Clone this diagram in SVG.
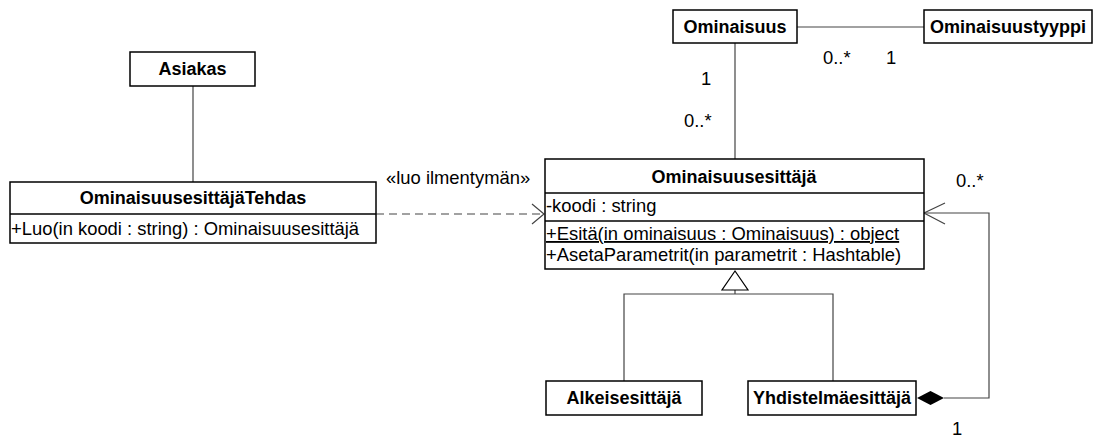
<svg xmlns="http://www.w3.org/2000/svg" width="1094" height="438" viewBox="0 0 1094 438">
<style>
text{font-family:"Liberation Sans",Arial,sans-serif;font-size:18.4px;fill:#000}
.b{font-weight:bold;text-anchor:middle;font-size:18px}
.box{fill:#fff;stroke:#000;stroke-width:1.5}
.ln{fill:none;stroke:#444;stroke-width:1.2}
.dv{stroke:#000;stroke-width:1.5}
</style>
<rect width="1094" height="438" fill="#fff"/>
<g id="connectors">
<line class="ln" x1="193" y1="86" x2="193" y2="182"/>
<line class="ln" x1="797" y1="27" x2="924" y2="27"/>
<line class="ln" x1="735" y1="43" x2="735" y2="159"/>
<line class="ln" x1="376" y1="214" x2="544" y2="214" stroke-dasharray="8,5"/>
<polyline class="ln" points="532,204 544,214 532,224"/>
<polyline class="ln" points="624,381 624,294 833,294 833,381"/>
<line class="ln" x1="735" y1="294" x2="735" y2="290"/>
<polygon points="735,271 722,290 748,290" fill="#fff" stroke="#000" stroke-width="1.2"/>
<polyline class="ln" points="944,398 989,398 989,213 924,213"/>
<polyline class="ln" points="945,203 924,213 945,224"/>
<polygon points="917,398 930.5,391 944,398 930.5,405" fill="#000"/>
<text x="386" y="184">«luo ilmentymän»</text>
<text x="701" y="85">1</text>
<text x="684" y="127">0..*</text>
<text x="823" y="64">0..*</text>
<text x="886" y="64">1</text>
<text x="956" y="187">0..*</text>
<text x="952" y="435">1</text>
</g>
<g id="Asiakas">
<rect class="box" x="130" y="52" width="125" height="34"/>
<text class="b" x="192.5" y="75">Asiakas</text>
</g>
<g id="OminaisuusesittajaTehdas">
<rect class="box" x="10" y="182" width="366" height="61"/>
<line class="dv" x1="10" y1="214" x2="376" y2="214"/>
<text class="b" x="193" y="204">OminaisuusesittäjäTehdas</text>
<text x="11" y="235">+Luo(in koodi : string) : Ominaisuusesittäjä</text>
</g>
<g id="Ominaisuus">
<rect class="box" x="673" y="10" width="124" height="33"/>
<text class="b" x="735" y="33">Ominaisuus</text>
</g>
<g id="Ominaisuustyyppi">
<rect class="box" x="924" y="10" width="168" height="33"/>
<text class="b" x="1008" y="33">Ominaisuustyyppi</text>
</g>
<g id="Ominaisuusesittaja">
<rect class="box" x="545" y="159" width="379" height="110"/>
<line class="dv" x1="545" y1="193" x2="924" y2="193"/>
<line class="dv" x1="545" y1="221" x2="924" y2="221"/>
<text class="b" x="734" y="183">Ominaisuusesittäjä</text>
<text x="546" y="212">-koodi : string</text>
<text x="546" y="240" text-decoration="underline">+Esitä(in ominaisuus : Ominaisuus) : object</text>
<text x="546" y="261">+AsetaParametrit(in parametrit : Hashtable)</text>
</g>
<g id="Alkeisesittaja">
<rect class="box" x="546" y="381" width="156" height="34"/>
<text class="b" x="624" y="404">Alkeisesittäjä</text>
</g>
<g id="Yhdistelmaesittaja">
<rect class="box" x="748" y="381" width="168" height="34"/>
<text class="b" x="832" y="404">Yhdistelmäesittäjä</text>
</g>
</svg>
